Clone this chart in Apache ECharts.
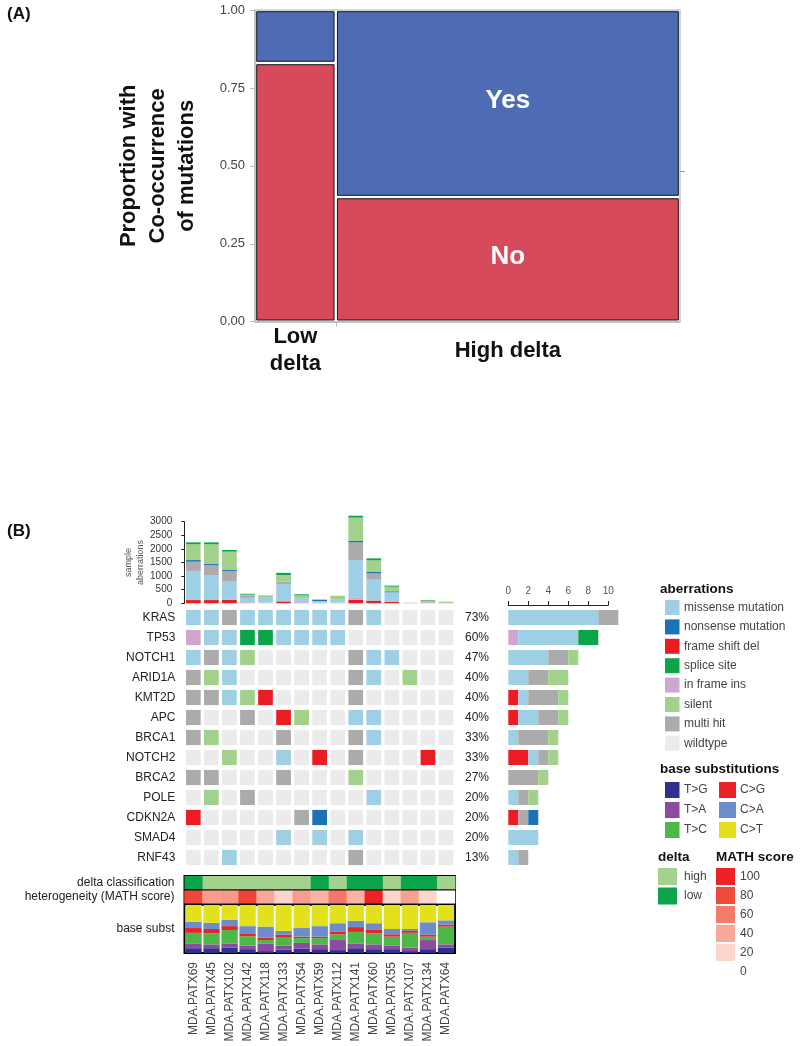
<!DOCTYPE html>
<html>
<head>
<meta charset="utf-8">
<title>Co-occurrence of mutations and oncoprint</title>
<script src="https://cdn.jsdelivr.net/npm/echarts@6/dist/echarts.min.js"></script>
<style>
  html, body { margin: 0; padding: 0; background: #fff; }
  #main { width: 800px; height: 1046px; }
</style>
</head>
<body>
<div id="main"></div>
<script>
var FONT = '"Liberation Sans", Arial, Helvetica, sans-serif';

// ---- panel A: mosaic of co-occurrence by delta group ----
var deltaGroups = ['Low\ndelta', 'High delta'];
var deltaGroupShare = [0.19, 0.81];   // width of each column
var noShare = [0.83, 0.40];           // proportion "No" in each column
var answerNames = ['No', 'Yes'];
var answerColors = ['#d64a5b', '#4d6cb4'];

// ---- panel B: oncoprint ----
var samples = ['MDA.PATX69', 'MDA.PATX45', 'MDA.PATX102', 'MDA.PATX142', 'MDA.PATX118',
  'MDA.PATX133', 'MDA.PATX54', 'MDA.PATX59', 'MDA.PATX112', 'MDA.PATX141',
  'MDA.PATX60', 'MDA.PATX55', 'MDA.PATX107', 'MDA.PATX134', 'MDA.PATX64'];
var genes = ['KRAS', 'TP53', 'NOTCH1', 'ARID1A', 'KMT2D', 'APC', 'BRCA1',
  'NOTCH2', 'BRCA2', 'POLE', 'CDKN2A', 'SMAD4', 'RNF43'];

// one letter per sample, see cellCodes
var mutationRows = [
  'MMHMMMMMMHMWWWW', // KRAS
  'IMMSSMMMMWWWWWW', // TP53
  'MHMLWWWWWHMMWWW', // NOTCH1
  'HLMWWWWWWHMWLWW', // ARID1A
  'HHMLFWWWWHWWWWW', // KMT2D
  'HWWHWFLWWMMWWWW', // APC
  'HLWWWHWWWHMWWWW', // BRCA1
  'WWLWWMWFWHWWWFW', // NOTCH2
  'HHWWWHWWWLWWWWW', // BRCA2
  'WLWHWWWWWWMWWWW', // POLE
  'FWWWWWHNWWWWWWW', // CDKN2A
  'WWWWWMWMWMWWWWW', // SMAD4
  'WWMWWWWWWHWWWWW'  // RNF43
];
var cellCodes = 'MNFSILHW';
var aberrationNames = ['missense mutation', 'nonsense mutation', 'frame shift del', 'splice site',
  'in frame ins', 'silent', 'multi hit', 'wildtype'];
var aberrationColors = ['#9fcfe4', '#1b72b8', '#ec1c24', '#0ba44a', '#cfa6d0', '#a1d18a', '#ababab', '#ebebeb'];
// stacking order of bars (index into aberrationNames)
var stackOrder = [2, 4, 0, 6, 1, 5, 3];

// sample aberrations (top bars), same order as stackOrder
var topFrameShift = [120, 120, 130, 0, 0, 70, 0, 0, 0, 130, 100, 60, 0, 0, 0];
var topInFrame    = [0, 0, 0, 40, 30, 0, 40, 20, 30, 70, 0, 0, 0, 40, 0];
var topMissense   = [1070, 920, 690, 160, 200, 640, 150, 60, 100, 1390, 793, 344, 0, 0, 0];
var topMultiHit   = [340, 370, 370, 70, 0, 85, 0, 0, 0, 650, 207, 0, 0, 0, 0];
var topNonsense   = [60, 50, 50, 0, 0, 0, 0, 50, 0, 50, 50, 36, 0, 0, 0];
var topSilent     = [580, 710, 660, 50, 30, 245, 100, 20, 150, 860, 430, 170, 25, 60, 60];
var topSplice     = [70, 70, 60, 30, 20, 80, 40, 0, 0, 70, 72, 39, 0, 20, 0];
var topStacks = [topFrameShift, topInFrame, topMissense, topMultiHit, topNonsense, topSilent, topSplice];
var topTicks = { max: 3000, step: 500 };

var deltaClass = ['low', 'high', 'high', 'high', 'high', 'high', 'high', 'low', 'high', 'low', 'low', 'high', 'low', 'low', 'high'];
var deltaNames = ['high', 'low'];
var deltaColors = ['#a3d28e', '#0ba44a'];

var mathScore = [82, 45, 47, 84, 40, 20, 45, 35, 62, 35, 100, 20, 43, 20, 0];
var mathStops = [0, 20, 40, 60, 80, 100];
var mathColors = ['#ffffff', '#fcd5cc', '#f8a898', '#f47b6b', '#f04b3a', '#ec2227'];

var substNames = ['T>G', 'T>A', 'T>C', 'C>G', 'C>A', 'C>T'];
var substColors = ['#2e3192', '#8b4ba0', '#4db848', '#ec2227', '#6d8ccb', '#e3e11c'];
var substTG = [10, 10, 11, 8, 4, 7, 9, 8, 6, 10, 8, 8, 4, 8, 11];
var substTA = [9, 8, 9, 7, 16, 8, 12, 10, 21, 10, 10, 7, 7, 19, 7];
var substTC = [23, 23, 28, 20, 7, 17, 10, 13, 12, 24, 23, 19, 31, 7, 37];
var substCG = [10, 9, 8, 6, 5, 6, 3, 3, 5, 10, 7, 5, 4, 4, 4];
var substCA = [13, 13, 13, 15, 23, 8, 18, 22, 18, 13, 14, 11, 4, 26, 9];
var substCT = [35, 37, 31, 44, 45, 54, 48, 44, 38, 33, 38, 50, 50, 36, 32];
var substStacks = [substTG, substTA, substTC, substCG, substCA, substCT];

// ---------- build ----------
var chart = echarts.init(document.getElementById('main'));

var mosaicRects = [];
var acc = 0;
deltaGroups.forEach(function (g, gi) {
  var w = deltaGroupShare[gi];
  mosaicRects.push([acc, acc + w, 0, noShare[gi], 0]);
  mosaicRects.push([acc, acc + w, noShare[gi], 1, 1]);
  acc += w;
});
var groupCenters = [];
acc = 0;
deltaGroupShare.forEach(function (w) { groupCenters.push(acc + w / 2); acc += w; });
var overallNo = 0;
deltaGroupShare.forEach(function (w, i) { overallNo += w * noShare[i]; });

// oncoprint cells and per gene counts
var cells = [];
var geneCounts = genes.map(function () { return aberrationNames.map(function () { return 0; }); });
mutationRows.forEach(function (row, gi) {
  row.split('').forEach(function (c, si) {
    var t = cellCodes.indexOf(c);
    cells.push([si, gi, t]);
    geneCounts[gi][t] += 1;
  });
});
var percentLabels = geneCounts.map(function (cnt) {
  var mutated = 0;
  cnt.forEach(function (v, t) { if (aberrationNames[t] !== 'wildtype') mutated += v; });
  return Math.round(mutated / samples.length * 100) + '%';
});

var series = [];

series.push({
  type: 'custom', xAxisIndex: 0, yAxisIndex: 0,
  encode: { x: [0, 1], y: [2, 3] },
  data: mosaicRects,
  renderItem: function (params, api) {
    var p0 = api.coord([api.value(0), api.value(2)]);
    var p1 = api.coord([api.value(1), api.value(3)]);
    var pad = 1.7;
    var x = p0[0] + pad, y = p1[1] + pad;
    var w = p1[0] - p0[0] - 2 * pad, h = p0[1] - p1[1] - 2 * pad;
    var a = api.value(4);
    var kids = [{ type: 'rect', shape: { x: x, y: y, width: w, height: h },
      style: { fill: answerColors[a], stroke: '#151515', lineWidth: 1 } }];
    if (w > 120) {
      kids.push({ type: 'text', style: { text: answerNames[a], x: x + w / 2, y: y + h / 2 - 3,
        align: 'center', verticalAlign: 'middle', fill: '#fff', font: 'bold 26px ' + FONT } });
    }
    return { type: 'group', children: kids };
  }
});

stackOrder.forEach(function (t, k) {
  series.push({
    type: 'bar', name: aberrationNames[t], stack: 'top', xAxisIndex: 1, yAxisIndex: 2,
    barWidth: 14.7, clip: false, data: topStacks[k],
    itemStyle: { color: aberrationColors[t] }
  });
});

series.push({
  type: 'custom', xAxisIndex: 2, yAxisIndex: 3, data: cells,
  renderItem: function (params, api) {
    var c = api.coord([api.value(0), api.value(1)]);
    var s = api.size([1, 1]);
    var w = s[0] * 0.815, h = s[1] * 0.76;
    return { type: 'rect', shape: { x: c[0] - w / 2, y: c[1] - h / 2, width: w, height: h },
      style: { fill: aberrationColors[api.value(2)] } };
  }
});

stackOrder.forEach(function (t) {
  series.push({
    type: 'bar', name: aberrationNames[t], stack: 'right', xAxisIndex: 3, yAxisIndex: 5,
    barWidth: 15, clip: false,
    data: geneCounts.map(function (cnt) { return cnt[t]; }),
    itemStyle: { color: aberrationColors[t] }
  });
});

series.push({
  type: 'custom', xAxisIndex: 4, yAxisIndex: 6,
  data: deltaClass.map(function (d, si) { return [si, 0, deltaNames.indexOf(d)]; }),
  renderItem: function (params, api) {
    var c = api.coord([api.value(0), api.value(1)]);
    var s = api.size([1, 1]);
    return { type: 'rect', shape: { x: c[0] - s[0] / 2, y: c[1] - s[1] / 2, width: s[0] + 0.5, height: s[1] },
      style: { fill: deltaColors[api.value(2)] } };
  }
});

var mathSeriesIndex = series.length;
series.push({
  type: 'heatmap', xAxisIndex: 5, yAxisIndex: 7,
  data: mathScore.map(function (v, si) { return [si, 0, v]; })
});

substStacks.forEach(function (vals, k) {
  series.push({
    type: 'bar', name: substNames[k], stack: 'subst', xAxisIndex: 6, yAxisIndex: 8,
    barWidth: 16.3, data: vals, itemStyle: { color: substColors[k] }
  });
});

// ---------- legends ----------
var graphics = [];
function gText(text, x, y, opts) {
  opts = opts || {};
  graphics.push({ type: 'text', silent: true, style: {
    text: text, x: x, y: y, verticalAlign: 'middle', align: opts.align || 'left',
    fill: opts.fill || '#111', font: (opts.bold ? 'bold ' : '') + (opts.size || 12) + 'px ' + FONT } });
}
function gRect(x, y, w, h, color) {
  graphics.push({ type: 'rect', silent: true, shape: { x: x, y: y, width: w, height: h }, style: { fill: color } });
}
gText('(A)', 7, 14, { bold: true, size: 17 });
gText('(B)', 7, 531, { bold: true, size: 17 });

gText('aberrations', 660, 589, { bold: true, size: 13.5 });
aberrationNames.forEach(function (n, i) {
  gRect(665, 600 + i * 19.4, 14.5, 15, aberrationColors[i]);
  gText(n, 684, 607.5 + i * 19.4, { fill: '#444' });
});
gText('base substitutions', 660, 769, { bold: true, size: 13.5 });
substNames.forEach(function (n, i) {
  var col = Math.floor(i / 3), row = i % 3;
  var sx = col ? 719 : 665;
  gRect(sx, 782 + row * 20, col ? 17 : 14.5, 16, substColors[i]);
  gText(n, sx + (col ? 21 : 19), 790 + row * 20, { fill: '#444' });
});
gText('delta', 658, 857, { bold: true, size: 13.5 });
deltaNames.forEach(function (n, i) {
  gRect(658, 868 + i * 19.5, 19, 17, deltaColors[i]);
  gText(n, 684, 876.5 + i * 19.5, { fill: '#444' });
});
gText('MATH score', 716, 857, { bold: true, size: 13.5 });
mathStops.slice().reverse().forEach(function (v, i) {
  gRect(716, 868 + i * 19, 19, 17, mathColors[mathStops.length - 1 - i]);
  gText(String(v), 740, 876.5 + i * 19, { fill: '#444' });
});

var hidden = { show: false };
var oncoLeft = 184.3, oncoWidth = 270.7;

chart.setOption({
  animation: false,
  textStyle: { fontFamily: FONT },
  grid: [
    { left: 255, top: 10, width: 425, height: 311.7, show: true, borderColor: '#c6c6c6', borderWidth: 1.5 },
    { left: oncoLeft, top: 521.7, width: oncoWidth, height: 81.6 },
    { left: oncoLeft, top: 607.5, width: oncoWidth, height: 260 },
    { left: 508.3, top: 607.5, width: 100, height: 260 },
    { left: 184.5, top: 876, width: 270.5, height: 13.3, show: true, borderColor: '#000', borderWidth: 2 },
    { left: 184.5, top: 890.7, width: 270.5, height: 12.6, show: true, borderColor: '#000', borderWidth: 2 },
    { left: 184.5, top: 905, width: 270.5, height: 48, show: true, borderColor: '#000', borderWidth: 2 }
  ],
  xAxis: [
    { gridIndex: 0, type: 'value', min: 0, max: 1,
      axisLine: { show: true, lineStyle: { color: '#bdbdbd', width: 1.5 } },
      axisTick: { show: true, customValues: [deltaGroupShare[0]], length: 5, lineStyle: { color: '#bdbdbd' } },
      axisLabel: { customValues: groupCenters, margin: 29, verticalAlign: 'middle',
        fontSize: 22, fontWeight: 'bold', color: '#111', lineHeight: 27,
        formatter: function (v) { return v < deltaGroupShare[0] ? deltaGroups[0] : deltaGroups[1]; } },
      splitLine: hidden },
    { gridIndex: 1, type: 'category', data: samples, show: false },
    { gridIndex: 2, type: 'category', data: samples, show: false },
    { gridIndex: 3, type: 'value', position: 'top', min: 0, max: 10, interval: 2, offset: 2.5,
      axisLine: { show: true, lineStyle: { color: '#222', width: 1 } },
      axisTick: { show: true, length: 4, lineStyle: { color: '#222' } },
      axisLabel: { fontSize: 10, color: '#555', margin: 9 },
      splitLine: hidden },
    { gridIndex: 4, type: 'category', data: samples, show: false },
    { gridIndex: 5, type: 'category', data: samples, show: false },
    { gridIndex: 6, type: 'category', data: samples,
      axisLine: hidden, axisTick: hidden,
      axisLabel: { rotate: 90, interval: 0, fontSize: 12, color: '#444', margin: 9 } }
  ],
  yAxis: [
    { gridIndex: 0, type: 'value', min: 0, max: 1, interval: 0.25,
      name: 'Proportion with\nCo-occurrence\nof mutations', nameLocation: 'middle', nameGap: 54,
      nameTextStyle: { fontSize: 22, fontWeight: 'bold', color: '#111', lineHeight: 29 },
      axisLine: { show: true, lineStyle: { color: '#bdbdbd', width: 1.5 } },
      axisTick: { show: true, length: 5, lineStyle: { color: '#bdbdbd' } },
      axisLabel: { fontSize: 13, color: '#444', margin: 10, formatter: function (v) { return v.toFixed(2); } },
      splitLine: hidden },
    { gridIndex: 0, type: 'value', position: 'right', min: 0, max: 1,
      axisLine: hidden, axisLabel: hidden, splitLine: hidden,
      axisTick: { show: true, customValues: [overallNo], length: 5, lineStyle: { color: '#9a9a9a' } } },
    { gridIndex: 1, type: 'value', min: 0, max: topTicks.max, interval: topTicks.step,
      name: 'sample\naberrations', nameLocation: 'middle', nameGap: 35,
      nameTextStyle: { fontSize: 9, color: '#555', lineHeight: 12 },
      axisLine: { show: true, lineStyle: { color: '#222', width: 1 } },
      axisTick: { show: true, length: 3, lineStyle: { color: '#222' } },
      axisLabel: { fontSize: 10, color: '#333', margin: 12, formatter: function (v) { return String(v); } },
      splitLine: hidden },
    { gridIndex: 2, type: 'category', data: genes, inverse: true,
      axisLine: hidden, axisTick: hidden,
      axisLabel: { fontSize: 12, color: '#222', margin: 9 } },
    { gridIndex: 2, type: 'category', data: percentLabels, inverse: true, position: 'right',
      axisLine: hidden, axisTick: hidden,
      axisLabel: { fontSize: 12, color: '#222', margin: 10 } },
    { gridIndex: 3, type: 'category', data: genes, inverse: true, show: false },
    { gridIndex: 4, type: 'category', data: ['delta classification'],
      axisLine: hidden, axisTick: hidden, axisLabel: { fontSize: 12, color: '#222', margin: 10 } },
    { gridIndex: 5, type: 'category', data: ['heterogeneity (MATH score)'],
      axisLine: hidden, axisTick: hidden, axisLabel: { fontSize: 12, color: '#222', margin: 10 } },
    { gridIndex: 6, type: 'value', min: 0, max: 100, show: false },
    { gridIndex: 6, type: 'category', data: ['base subst'], position: 'left',
      axisLine: hidden, axisTick: hidden, axisLabel: { fontSize: 12, color: '#222', margin: 10 } }
  ],
  visualMap: [{
    type: 'continuous', show: false, seriesIndex: mathSeriesIndex,
    min: mathStops[0], max: mathStops[mathStops.length - 1],
    inRange: { color: mathColors }
  }],
  graphic: graphics,
  series: series
});
</script>
</body>
</html>
